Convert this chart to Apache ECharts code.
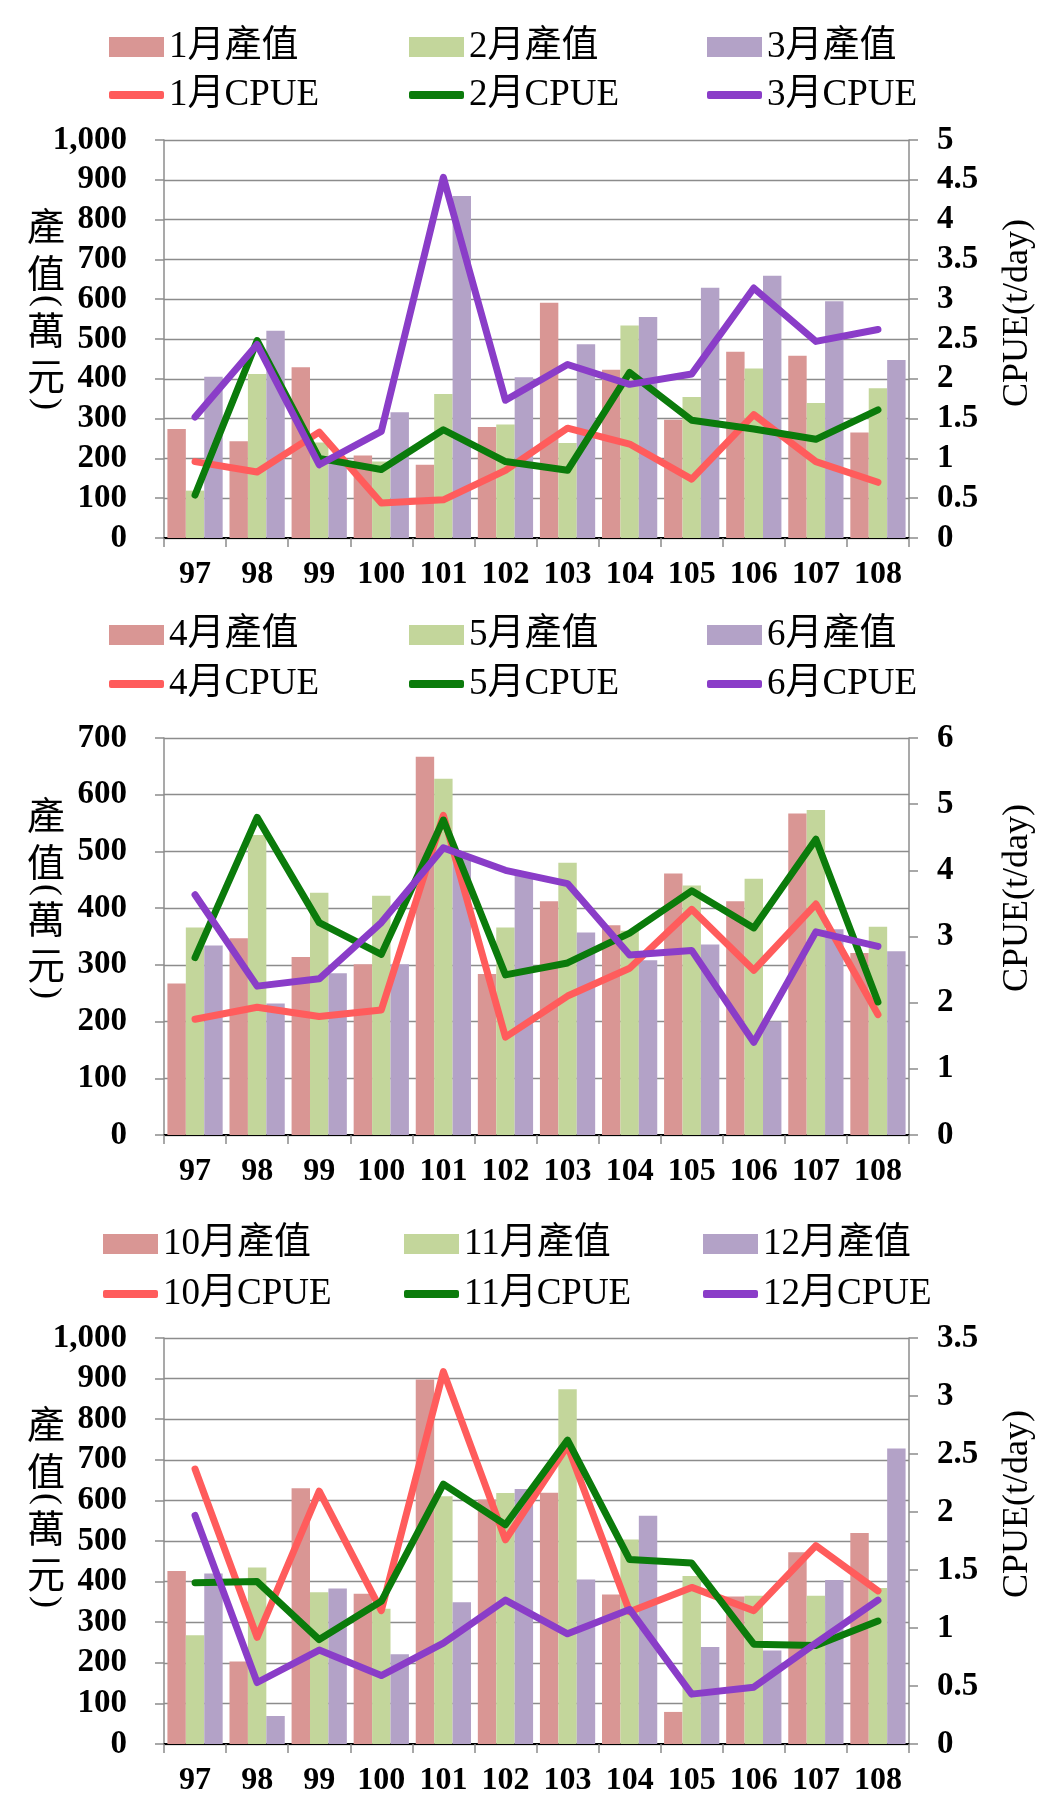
<!DOCTYPE html>
<html><head><meta charset="utf-8">
<script src="https://cdn.jsdelivr.net/npm/echarts@6/dist/echarts.min.js"></script>
<style>html,body{margin:0;padding:0;background:#fff}#c{width:1052px;height:1800px}</style>
</head><body><div id="c"></div>
<script>
// ---------- data ----------
const years = ['97','98','99','100','101','102','103','104','105','106','107','108'];

// panel 1 (Jan-Mar)
const jan_value = [274,243,429,207,184,279,591,423,297,468,458,265];
const feb_value = [119,412,240,192,362,285,239,534,354,426,339,376];
const mar_value = [405,521,195,316,859,404,487,555,629,659,595,447];
const jan_cpue = [0.96,0.83,1.33,0.44,0.48,0.85,1.38,1.18,0.74,1.55,0.96,0.70];
const feb_cpue = [0.54,2.48,1.00,0.86,1.36,0.96,0.85,2.08,1.48,1.37,1.24,1.61];
const mar_cpue = [1.52,2.43,0.92,1.34,4.53,1.73,2.18,1.93,2.06,3.14,2.47,2.62];

// panel 2 (Apr-Jun)
const apr_value = [267,347,314,301,667,284,412,370,461,412,567,321];
const may_value = [366,529,427,422,628,366,480,360,440,452,573,367];
const jun_value = [334,232,285,301,490,459,357,308,336,200,363,324];
const apr_cpue = [1.75,1.93,1.79,1.89,4.83,1.48,2.10,2.52,3.41,2.49,3.49,1.82];
const may_cpue = [2.68,4.80,3.21,2.73,4.76,2.42,2.60,3.05,3.69,3.13,4.47,2.01];
const jun_cpue = [3.63,2.25,2.36,3.21,4.34,4.00,3.80,2.72,2.79,1.40,3.07,2.85];

// panel 3 (Oct-Dec)
const oct_value = [426,203,630,370,898,602,619,368,79,363,472,520];
const nov_value = [268,435,374,333,610,618,874,504,414,365,365,384];
const dec_value = [420,69,383,221,349,628,405,562,239,230,404,728];
const oct_cpue = [2.37,0.92,2.18,1.15,3.21,1.76,2.57,1.14,1.35,1.15,1.71,1.32];
const nov_cpue = [1.39,1.40,0.90,1.23,2.24,1.89,2.62,1.59,1.56,0.86,0.85,1.06];
const dec_cpue = [1.97,0.53,0.81,0.59,0.87,1.24,0.95,1.16,0.43,0.49,0.87,1.24];

// axis ranges / labels
const leftMax = [1000, 700, 1000];
const rightMax = [5, 6, 3.5];
const rightInterval = [0.5, 1, 0.5];
const monthNames = [['1月','2月','3月'],['4月','5月','6月'],['10月','11月','12月']];
const valueSuffix = '產值';
const cpueSuffix = 'CPUE';
const leftAxisChars = ['產','值','(','萬','元',')'];
const rightAxisName = 'CPUE(t/day)';

// ---------- layout / style ----------
const barColors = ['#D99694','#C3D69B','#B3A2C7'];
const lineColors = ['#FF5C5C','#0B7B0B','#8A3DC8'];
const LATIN = '"Liberation Serif", "Times New Roman", serif';
const MIX = '"Liberation Serif", "Noto Sans CJK TC", serif';
const nameOffsets = [0, 47, 75, 104, 150, 178];
const panels = [
  {top:140, height:398, legendTop:[27,75], legendLeft:[109,409,707], nameY:226, rNameY:313,
   bars:[jan_value,feb_value,mar_value], lines:[jan_cpue,feb_cpue,mar_cpue]},
  {top:738, height:397, legendTop:[615,664], legendLeft:[109,409,707], nameY:815, rNameY:898,
   bars:[apr_value,may_value,jun_value], lines:[apr_cpue,may_cpue,jun_cpue]},
  {top:1338, height:406, legendTop:[1224,1274], legendLeft:[103,404,703], nameY:1424, rNameY:1504,
   bars:[oct_value,nov_value,dec_value], lines:[oct_cpue,nov_cpue,dec_cpue]}
];

const grid = [], xAxis = [], yAxis = [], series = [], legend = [], graphic = [];
const gray = '#8c8c8c';

panels.forEach((p, k) => {
  grid.push({left:164, right:143, top:p.top, height:p.height, containLabel:false});
  xAxis.push({
    type:'category', gridIndex:k, data:years, position:'bottom',
    axisLine:{lineStyle:{color:gray, width:1.5}},
    axisTick:{show:true, length:9, interval:0, lineStyle:{color:gray, width:1.5}},
    axisLabel:{color:'#000', fontFamily:LATIN, fontWeight:'bold', fontSize:32, margin:21,
      interval:0, hideOverlap:false}
  });
  xAxis.push({
    type:'category', gridIndex:k, data:years, position:'top',
    axisLine:{show:true, lineStyle:{color:'#000', width:2}},
    axisTick:{show:false}, axisLabel:{show:false}, splitLine:{show:false}
  });
  yAxis.push({
    type:'value', gridIndex:k, min:0, max:leftMax[k], interval:100, position:'left',
    axisLine:{show:true, lineStyle:{color:gray, width:1.5}},
    axisTick:{show:true, length:9, lineStyle:{color:gray, width:1.5}},
    splitLine:{show:true, lineStyle:{color:gray, width:1.3}},
    axisLabel:{color:'#000', fontFamily:LATIN, fontWeight:'bold', fontSize:33, margin:37,
      formatter: v => v.toLocaleString('en-US')}
  });
  yAxis.push({
    type:'value', gridIndex:k, min:0, max:rightMax[k], interval:rightInterval[k], position:'right',
    axisLine:{show:true, lineStyle:{color:gray, width:1.5}},
    axisTick:{show:true, length:9, lineStyle:{color:gray, width:1.5}},
    splitLine:{show:false},
    axisLabel:{color:'#000', fontFamily:LATIN, fontWeight:'bold', fontSize:33, margin:28}
  });
  const names = monthNames[k];
  names.forEach((m, i) => {
    series.push({
      type:'bar', name:m + valueSuffix, xAxisIndex:2*k, yAxisIndex:2*k,
      data:p.bars[i], barGap:'0%', barCategoryGap:'11%',
      itemStyle:{color:barColors[i]}, z:2
    });
  });
  names.forEach((m, i) => {
    series.push({
      type:'line', name:m + cpueSuffix, xAxisIndex:2*k, yAxisIndex:2*k+1,
      data:p.lines[i], symbol:'none', showSymbol:false,
      lineStyle:{color:lineColors[i], width:7, cap:'round', join:'round'},
      itemStyle:{color:lineColors[i]}, z:3
    });
  });
  names.forEach((m, i) => {
    legend.push({
      left:p.legendLeft[i], top:p.legendTop[0], padding:0, selectedMode:false,
      data:[{name:m + valueSuffix, icon:'rect'}], itemWidth:55, itemHeight:20,
      textStyle:{color:'#000', fontFamily:MIX, fontSize:37, lineHeight:40}
    });
    legend.push({
      left:p.legendLeft[i], top:p.legendTop[1], padding:0, selectedMode:false,
      data:[{name:m + cpueSuffix, icon:'roundRect'}], itemWidth:55, itemHeight:8,
      textStyle:{color:'#000', fontFamily:MIX, fontSize:37, lineHeight:40}
    });
  });
  leftAxisChars.forEach((ch, j) => {
    const isParen = (ch === '(' || ch === ')');
    graphic.push({
      type:'text', x:46, y:p.nameY + nameOffsets[j],
      rotation: isParen ? -Math.PI/2 : 0,
      style:{text:ch, fill:'#000',
        font: isParen ? '36px "Liberation Serif"' : '38px "Noto Sans CJK TC"',
        textAlign:'center', textVerticalAlign:'middle'}
    });
  });
  graphic.push({
    type:'text', x:1018, y:p.rNameY, rotation:Math.PI/2,
    style:{text:rightAxisName, fill:'#000', font:'36px "Liberation Serif"',
      textAlign:'center', textVerticalAlign:'middle'}
  });
});

const chart = echarts.init(document.getElementById('c'));
chart.setOption({
  animation:false,
  backgroundColor:'#fff',
  grid, xAxis, yAxis, series, legend, graphic
});
</script>
</body></html>
